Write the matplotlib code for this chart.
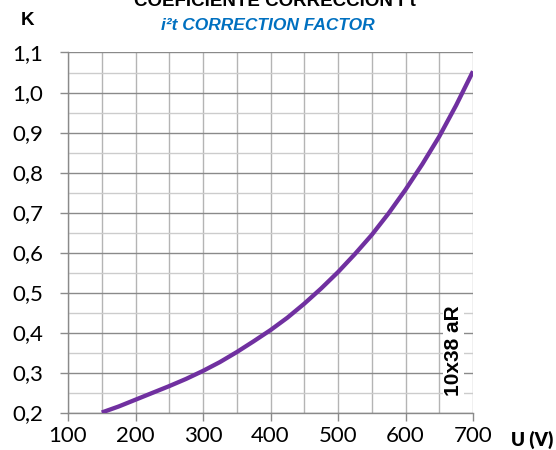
import numpy as np
import matplotlib
matplotlib.use("Agg")
import matplotlib.pyplot as plt
from matplotlib.ticker import FixedLocator

# data (every 25 V)
voltage = [150, 175, 200, 225, 250, 275, 300, 325, 350, 375, 400, 425,
           450, 475, 500, 525, 550, 575, 600, 625, 650, 675, 700]
k_factor = [0.200, 0.215, 0.232, 0.249, 0.266, 0.284, 0.304, 0.326, 0.351, 0.378,
            0.406, 0.437, 0.472, 0.510, 0.551, 0.596, 0.644, 0.698, 0.757, 0.821,
            0.890, 0.968, 1.053]
x_ticks = [100, 200, 300, 400, 500, 600, 700]
y_ticks = [0.2, 0.3, 0.4, 0.5, 0.6, 0.7, 0.8, 0.9, 1.0, 1.1]

W, H = 556, 450
fig = plt.figure(figsize=(W / 100, H / 100), dpi=100)
ax = fig.add_axes([68 / W, (H - 412.5) / H, 405 / W, 360 / H])

ax.set_xlim(100, 700)
ax.set_ylim(0.2, 1.1)

# grid: verticals every 50, horizontals major 0.1 / minor 0.05
for xv in range(100, 701, 50):
    ax.axvline(xv, color="#b4b4b4", lw=1.0, zorder=1)
for yv in np.arange(0.25, 1.1, 0.1):
    ax.axhline(yv, color="#cccccc", lw=1.0, zorder=1)
for yv in y_ticks:
    ax.axhline(yv, color="#8a8a8a", lw=1.0, zorder=1)

ax.plot(voltage, k_factor, color="#7030a0", lw=3.1, zorder=3,
        solid_capstyle="butt", solid_joinstyle="round")

for s in ["top", "right"]:
    ax.spines[s].set_visible(False)
for s in ["left", "bottom"]:
    ax.spines[s].set_color("#8a8a8a")
    ax.spines[s].set_linewidth(1.0)

ax.xaxis.set_major_locator(FixedLocator(x_ticks))
ax.yaxis.set_major_locator(FixedLocator(y_ticks))
ax.set_xticklabels([str(v) for v in x_ticks])
ax.set_yticklabels([f"{v:.1f}".replace(".", ",") for v in y_ticks])
ax.tick_params(axis="both", direction="out", length=6, width=1.0, color="#8a8a8a",
               labelsize=16, labelcolor="#000000")
ax.tick_params(axis="x", pad=3.5)
ax.tick_params(axis="y", pad=12)
for lab in ax.get_xticklabels() + ax.get_yticklabels():
    lab.set_fontfamily("Lato")

ax.text(453.5 / W, 1 - 351 / H, "10x38 aR", transform=fig.transFigure, rotation=90,
        ha="center", va="center", fontsize=15, fontweight="bold",
        family="Liberation Sans", zorder=4,
        bbox=dict(facecolor="white", edgecolor="none", pad=1.0))

fig.text(27 / W, 1 - 25 / H, "K", ha="center", va="baseline", fontsize=13.5,
         fontweight="bold", family="Liberation Sans")
fig.text(532 / W, 1 - 446 / H, "U (V)", ha="center", va="baseline", fontsize=13.5,
         fontweight="heavy", family="Lato")
fig.text(275 / W, 1 - 6 / H, "COEFICIENTE CORRECCIÓN I²t", ha="center", va="baseline",
         fontsize=13.5, fontweight="bold", family="Liberation Sans")
fig.text(268 / W, 1 - 30.5 / H, "i²t CORRECTION FACTOR", ha="center", va="baseline",
         fontsize=12.5, fontweight="bold", style="italic", color="#0070c0",
         family="Liberation Sans")

fig.savefig("out.png", dpi=100)
